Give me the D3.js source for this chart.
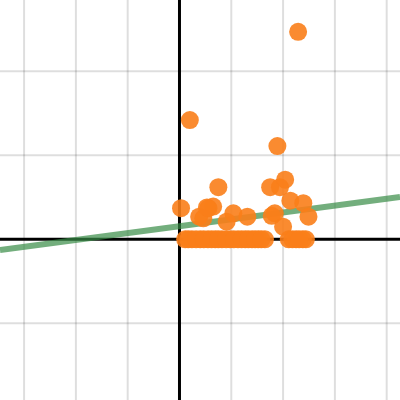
<!DOCTYPE html>
<html>
<head>
<meta charset="utf-8">
<script src="https://cdn.jsdelivr.net/npm/d3@7"></script>
<style>
  html, body { margin: 0; padding: 0; background: #fff; }
  svg { display: block; }
</style>
</head>
<body>
<svg id="graph" width="400" height="400"></svg>
<script>
// data points (graph units)
var pointX = [2.29, 0.20, 0.75, 0.03, 0.38, 0.56, 0.65, 1.04, 0.91, 1.31,
              1.75, 1.94, 2.04, 1.89, 2.14, 2.39, 2.49, 1.84, 1.78, 2.00,
              0.46, 0.53,
              0.11, 0.24, 0.40, 0.55, 0.69, 0.82, 0.98, 1.13, 1.27, 1.40,
              1.52, 1.65, 2.11, 2.25, 2.38, 2.44,
              0.17, 0.32, 0.47, 0.62, 0.75, 0.90, 1.05, 1.20, 1.33, 1.46,
              1.58, 2.18, 2.31];
var pointY = [2.47, 1.42, 0.62, 0.37, 0.27, 0.37, 0.39, 0.31, 0.21, 0.27,
              0.62, 0.62, 0.71, 1.11, 0.46, 0.43, 0.27, 0.31, 0.28, 0.15,
              0.25, 0.38,
              0, 0, 0, 0, 0, 0, 0, 0, 0, 0,
              0, 0, 0, 0, 0, 0,
              0, 0, 0, 0, 0, 0, 0, 0, 0, 0,
              0, 0, 0];

// fitted line y = slope * x + intercept
var lineSlope = 0.082;
var lineIntercept = 0.156;

var gridX = [-3, -2, -1, 1, 2, 3, 4];
var gridY = [-1, 1, 2];

var W = 400, H = 400;
var svg = d3.select("#graph");

var x = d3.scaleLinear().domain([-3.465, 4.257]).range([0, W]);
var y = d3.scaleLinear().domain([-1.913, 2.849]).range([H, 0]);

// grid
svg.append("g").selectAll("line")
  .data(gridX).enter().append("line")
  .attr("x1", function(d) { return x(d); })
  .attr("x2", function(d) { return x(d); })
  .attr("y1", 0).attr("y2", H)
  .attr("stroke", "#000").attr("stroke-opacity", 0.13).attr("stroke-width", 2);

svg.append("g").selectAll("line")
  .data(gridY).enter().append("line")
  .attr("y1", function(d) { return y(d); })
  .attr("y2", function(d) { return y(d); })
  .attr("x1", 0).attr("x2", W)
  .attr("stroke", "#000").attr("stroke-opacity", 0.13).attr("stroke-width", 2);

// axes
svg.append("line")
  .attr("x1", 0).attr("x2", W)
  .attr("y1", y(0)).attr("y2", y(0))
  .attr("stroke", "#000").attr("stroke-width", 3);
svg.append("line")
  .attr("x1", x(0)).attr("x2", x(0))
  .attr("y1", 0).attr("y2", H)
  .attr("stroke", "#000").attr("stroke-width", 3);

// regression line
var xd = x.domain();
svg.append("line")
  .attr("x1", x(xd[0])).attr("y1", y(lineSlope * xd[0] + lineIntercept))
  .attr("x2", x(xd[1])).attr("y2", y(lineSlope * xd[1] + lineIntercept))
  .attr("stroke", "#388c46").attr("stroke-opacity", 0.7).attr("stroke-width", 6);

// points
svg.append("g").selectAll("circle")
  .data(d3.range(pointX.length)).enter().append("circle")
  .attr("cx", function(i) { return x(pointX[i]); })
  .attr("cy", function(i) { return y(pointY[i]); })
  .attr("r", 9)
  .attr("fill", "#fa7e19")
  .attr("fill-opacity", 0.9);
</script>
</body>
</html>
